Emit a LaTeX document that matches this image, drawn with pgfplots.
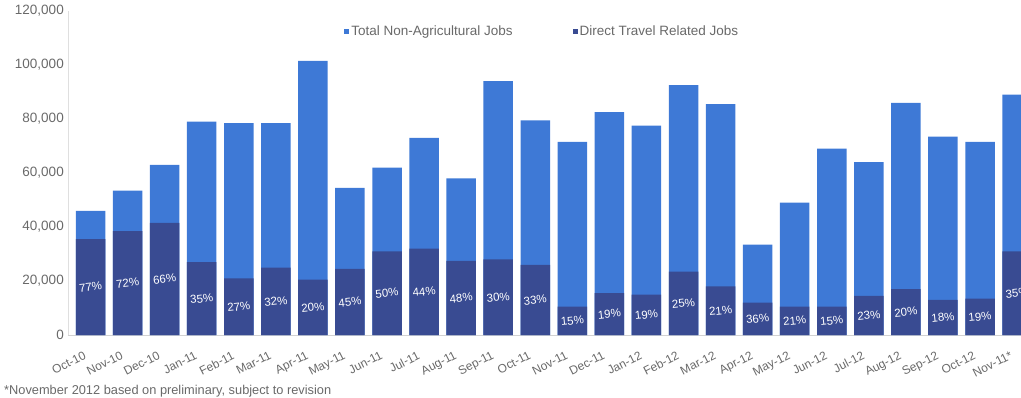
\documentclass[border=0pt]{standalone}
\usepackage{pgfplots}
\pgfplotsset{compat=1.18}
\usepackage{pgfplotstable}
\usepackage{fontspec}
\setmainfont{Liberation Sans}
\definecolor{lightbar}{RGB}{62,121,214}
\definecolor{darkbar}{RGB}{57,75,146}
\definecolor{txtgray}{RGB}{105,105,105}

\pgfplotstableread{
idx total direct pct
0  46000 35500 77
1  53500 38500 72
2  63000 41500 66
3  79000 27000 35
4  78500 21000 27
5  78500 25000 32
6  101500 20500 20
7  54500 24500 45
8  62000 31000 50
9  73000 32000 44
10 58000 27500 48
11 94000 28000 30
12 79500 26000 33
13 71500 10500 15
14 82500 15500 19
15 77500 15000 19
16 92500 23500 25
17 85500 18000 21
18 33500 12000 36
19 49000 10500 21
20 69000 10500 15
21 64000 14500 23
22 86000 17000 20
23 73500 13000 18
24 71500 13500 19
25 89000 31000 35
}\datatable

\begin{document}
\begin{tikzpicture}
\useasboundingbox (0,0) rectangle (1021pt,397pt);
\begin{axis}[
  at={(68.3pt,62pt)}, anchor=south west,
  scale only axis, width=971pt, height=324pt,
  xmin=-0.6, xmax=25.6, ymin=0, ymax=120000,
  axis x line*=bottom, axis y line*=left,
  x axis line style={draw=gray!35, -}, y axis line style={draw=gray!25, -},
  major tick length=0pt,
  scaled y ticks=false,
  ytick={0,20000,40000,60000,80000,100000,120000},
  yticklabels={0,{20,000},{40,000},{60,000},{80,000},{100,000},{120,000}},
  yticklabel style={font=\fontsize{13.5}{15}\selectfont, text=txtgray, xshift=-1pt},
  xtick={0,...,25},
  xticklabels={Oct-10,Nov-10,Dec-10,Jan-11,Feb-11,Mar-11,Apr-11,May-11,Jun-11,Jul-11,Aug-11,Sep-11,Oct-11,Nov-11,Dec-11,Jan-12,Feb-12,Mar-12,Apr-12,May-12,Jun-12,Jul-12,Aug-12,Sep-12,Oct-12,Nov-11*},
  xticklabel style={font=\fontsize{12}{14}\selectfont, text=txtgray, xshift=-6pt, yshift=-11pt, rotate=27, anchor=north east},
  legend style={at={(axis description cs:0.284,0.938)}, anchor=west, draw=none, fill=none, inner sep=0pt,
     font=\fontsize{13.5}{15}\selectfont, text=txtgray, legend columns=2,
     /tikz/every even column/.append style={column sep=58pt}},
  legend image code/.code={\fill[#1] (0pt,-2.5pt) rectangle (5pt,2.5pt);},
  clip=false,
]
\addplot[ybar, bar width=29.5pt, bar shift=0pt, fill=lightbar, draw=none] table[x=idx, y=total] {\datatable};
\addlegendentry{Total Non-Agricultural Jobs}
\addplot[ybar, bar width=29.5pt, bar shift=0pt, fill=darkbar, draw=none] table[x=idx, y=direct] {\datatable};
\addlegendentry{Direct Travel Related Jobs}
\addplot[draw=none, mark=none, forget plot, point meta=explicit symbolic,
  nodes near coords={\pgfplotspointmeta\%},
  nodes near coords style={anchor=center, text=white, font=\fontsize{11.5}{12}\selectfont, rotate=6}]
  table[x=idx, y expr=\thisrow{direct}/2, meta=pct] {\datatable};
\end{axis}
\node[anchor=base west, text=txtgray, font=\fontsize{12.8}{14}\selectfont, inner sep=0pt] at (4pt,3pt) {*November 2012 based on preliminary, subject to revision};
\end{tikzpicture}
\end{document}
